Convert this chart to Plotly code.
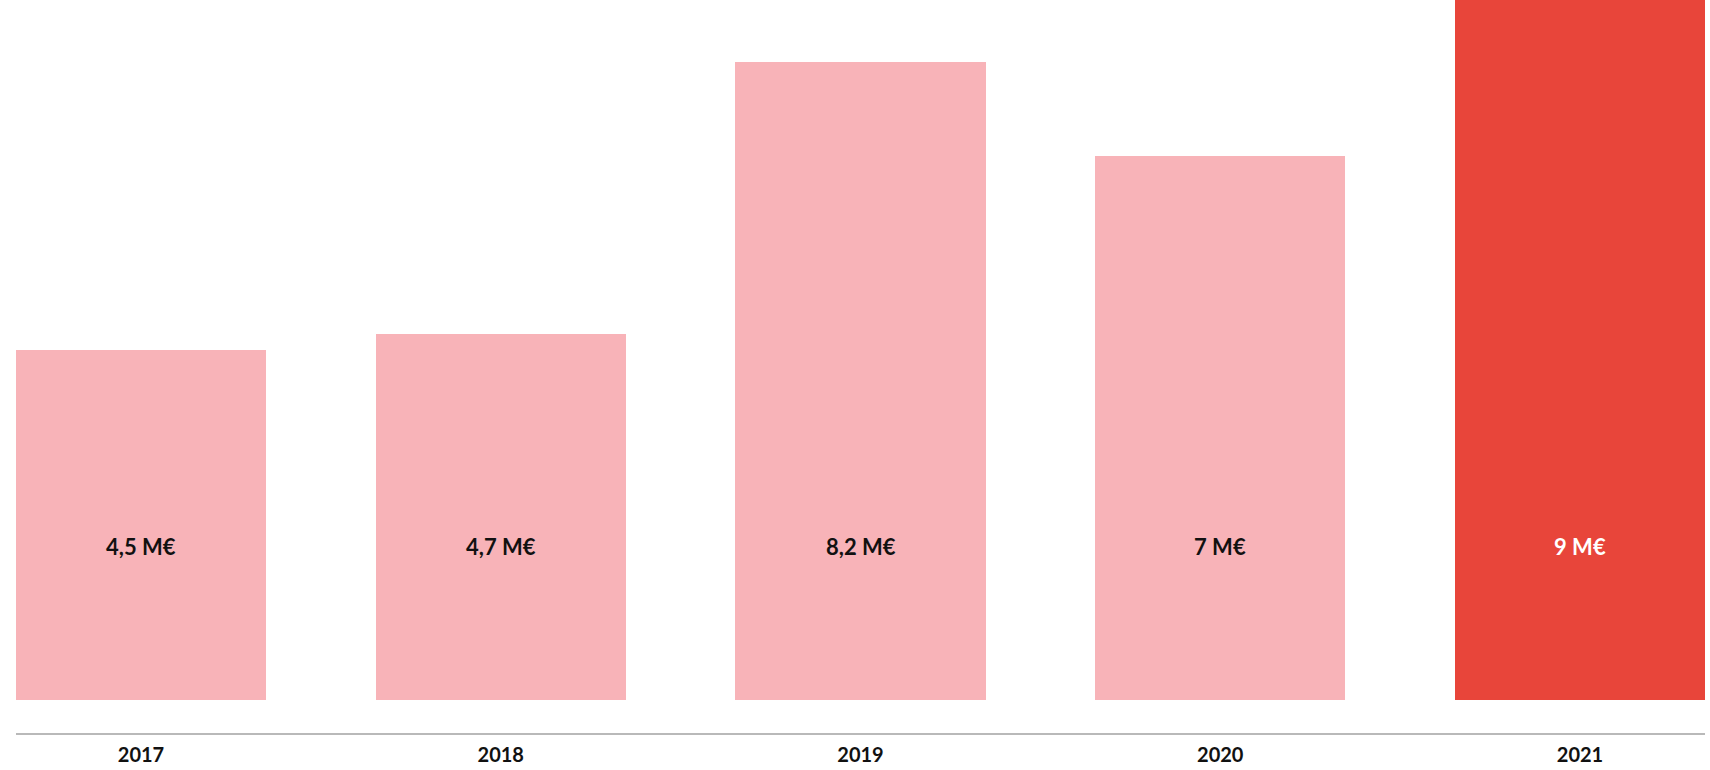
import plotly.graph_objects as go

years = ["2017", "2018", "2019", "2020", "2021"]
values = [4.5, 4.7, 8.2, 7.0, 9.0]
value_labels = ["4,5 M€", "4,7 M€", "8,2 M€", "7 M€", "9 M€"]
bar_colors = ["#F8B3B8", "#F8B3B8", "#F8B3B8", "#F8B3B8", "#E8453A"]
label_colors = ["#111111", "#111111", "#111111", "#111111", "#FFFFFF"]
label_height = 1.97

x_pos = list(range(len(years)))

fig = go.Figure()
fig.add_trace(go.Bar(
    x=x_pos, y=values, width=0.695,
    marker=dict(color=bar_colors, line=dict(width=0)),
    hoverinfo="skip",
))

for xi, lab, col in zip(x_pos, value_labels, label_colors):
    fig.add_annotation(x=xi, y=label_height, text=f"<b>{lab}</b>", showarrow=False,
                       font=dict(family="Lato", size=22, color=col),
                       xanchor="center", yanchor="middle")

fig.update_layout(
    width=1710, height=770,
    margin=dict(l=16, r=5, t=0, b=37),
    paper_bgcolor="white", plot_bgcolor="white",
    showlegend=False,
    bargap=0,
    xaxis=dict(
        range=[-0.3475, 4.3475],
        tickmode="array", tickvals=x_pos,
        ticktext=[f"<b>{y}</b>" for y in years],
        tickfont=dict(family="Lato", size=20, color="#111111"),
        showline=True, linecolor="#B9B9B9", linewidth=1.5,
        showgrid=False, zeroline=False,
        ticks="", ticklabelstandoff=3,
    ),
    yaxis=dict(
        range=[-0.424, 9.0],
        visible=False, showgrid=False, zeroline=False,
    ),
)

fig.write_html("out.html", config={"displayModeBar": False},
               post_script="document.body.style.margin='0';document.body.style.overflow='hidden';")
